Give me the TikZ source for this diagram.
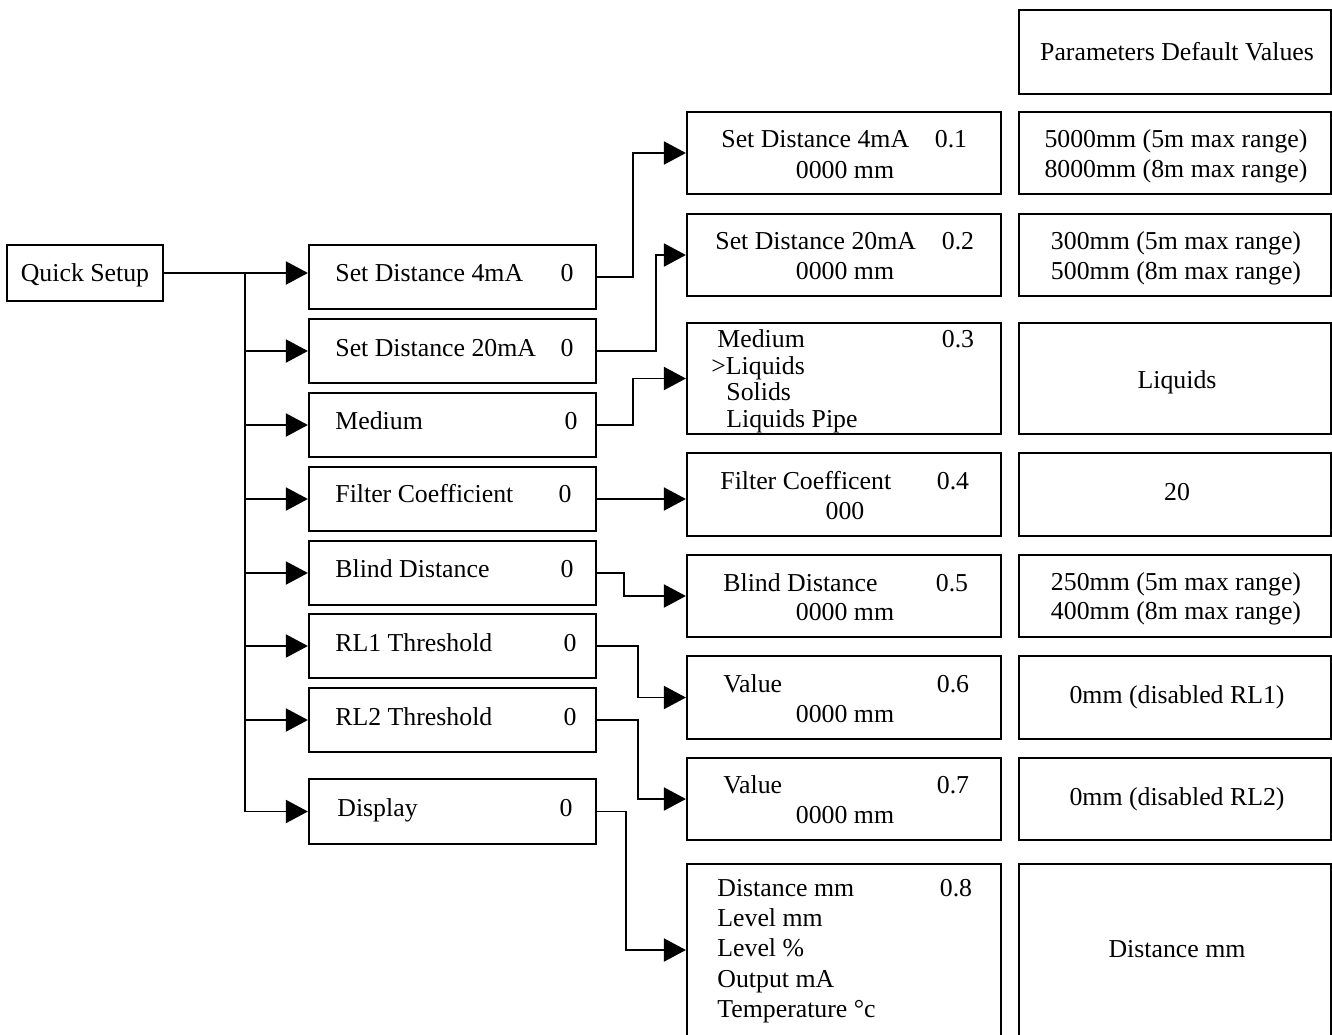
\documentclass[tikz,border=0pt]{standalone}
\usepackage{fontspec}
\setmainfont{Liberation Serif}
\usetikzlibrary{arrows.meta}
\begin{document}
\begin{tikzpicture}[x=0.5pt,y=-0.5pt,
  font=\fontsize{12.9}{15}\selectfont,
  box/.style 2 args={draw, line width=1.1pt, inner sep=0pt,
    minimum width=#1*0.5pt, minimum height=#2*0.5pt},
  txt/.style={inner sep=0pt, text height=0.84em, text depth=0pt, anchor=west},
  num/.style={inner sep=0pt, text height=0.84em, text depth=0pt, anchor=center},
  conn/.style={line width=0.95pt, -{Triangle[length=11pt,width=11.5pt]}},
  plain/.style={line width=0.95pt}]
\clip (0,0) rectangle (1332,1034);
\fill[white] (0,0) rectangle (1332,1034);

% Quick setup
\node[box={156}{56}] (qs) at (85,273) {};
\node[num] (qst) at (85,273) {Quick Setup};

% middle column
\node[box={287}{64}] (m1) at (452.5,277) {};
\node[box={287}{64}] (m2) at (452.5,351) {};
\node[box={287}{64}] (m3) at (452.5,425) {};
\node[box={287}{64}] (m4) at (452.5,499) {};
\node[box={287}{64}] (m5) at (452.5,573) {};
\node[box={287}{64}] (m6) at (452.5,646) {};
\node[box={287}{64}] (m7) at (452.5,720) {};
\node[box={287}{65}] (m8) at (452.5,811.5) {};

\node[txt] (m1t) at (335,273) {Set Distance 4mA};
\node[num] (m1n) at (567,273) {0};
\node[txt] (m2t) at (335,348) {Set Distance 20mA};
\node[num] (m2n) at (567,348) {0};
\node[txt] (m3t) at (335,421) {Medium};
\node[num] (m3n) at (571,421) {0};
\node[txt] (m4t) at (335,494) {Filter Coefficient};
\node[num] (m4n) at (565,494) {0};
\node[txt] (m5t) at (335,569) {Blind Distance};
\node[num] (m5n) at (567,569) {0};
\node[txt] (m6t) at (335,643) {RL1 Threshold};
\node[num] (m6n) at (570,643) {0};
\node[txt] (m7t) at (335,717) {RL2 Threshold};
\node[num] (m7n) at (570,717) {0};
\node[txt] (m8t) at (337,808) {Display};
\node[num] (m8n) at (566,808) {0};

% right column
\node[box={314}{82}] (r1) at (844,153) {};
\node[box={314}{82}] (r2) at (844,255) {};
\node[box={314}{111}] (r3) at (844,378.5) {};
\node[box={314}{83}] (r4) at (844,494.5) {};
\node[box={314}{82}] (r5) at (844,596) {};
\node[box={314}{83}] (r6) at (844,697.5) {};
\node[box={314}{82}] (r7) at (844,799) {};
\node[box={314}{172}] (r8) at (844,950) {};

\node[txt] (r1a) at (721,139) {Set Distance 4mA};
\node[num] (r1n) at (951,139) {0.1};
\node[num] (r1b) at (845,170) {0000 mm};
\node[txt] (r2a) at (715,241) {Set Distance 20mA};
\node[num] (r2n) at (958,241) {0.2};
\node[num] (r2b) at (845,271) {0000 mm};
\node[txt] (r3a) at (717,339) {Medium};
\node[num] (r3n) at (958,339) {0.3};
\node[txt] (r3b) at (711,366) {\textgreater Liquids};
\node[txt] (r3c) at (726,392) {Solids};
\node[txt] (r3d) at (726,419) {Liquids Pipe};
\node[txt] (r4a) at (720,481) {Filter Coefficent};
\node[num] (r4n) at (953,481) {0.4};
\node[num] (r4b) at (845,511) {000};
\node[txt] (r5a) at (723,583) {Blind Distance};
\node[num] (r5n) at (952,583) {0.5};
\node[num] (r5b) at (845,612) {0000 mm};
\node[txt] (r6a) at (723,684) {Value};
\node[num] (r6n) at (953,684) {0.6};
\node[num] (r6b) at (845,714) {0000 mm};
\node[txt] (r7a) at (723,785) {Value};
\node[num] (r7n) at (953,785) {0.7};
\node[num] (r7b) at (845,815) {0000 mm};
\node[txt] (r8a) at (717,888) {Distance mm};
\node[num] (r8n) at (956,888) {0.8};
\node[txt] (r8b) at (717,918) {Level mm};
\node[txt] (r8c) at (717,948) {Level \%};
\node[txt] (r8d) at (717,979) {Output mA};
\node[txt] (r8e) at (717,1009) {Temperature °c};

% default values column
\node[box={312}{84}] (d0) at (1175,52) {};
\node[box={312}{82}] (d1) at (1175,153) {};
\node[box={312}{82}] (d2) at (1175,255) {};
\node[box={312}{111}] (d3) at (1175,378.5) {};
\node[box={312}{83}] (d4) at (1175,494.5) {};
\node[box={312}{82}] (d5) at (1175,596) {};
\node[box={312}{83}] (d6) at (1175,697.5) {};
\node[box={312}{82}] (d7) at (1175,799) {};
\node[box={312}{172}] (d8) at (1175,950) {};

\node[num] (d0t) at (1177,52) {Parameters Default Values};
\node[num] (d1a) at (1176,139) {5000mm (5m max range)};
\node[num] (d1b) at (1176,169) {8000mm (8m max range)};
\node[num] (d2a) at (1176,241) {300mm (5m max range)};
\node[num] (d2b) at (1176,271) {500mm (8m max range)};
\node[num] (d3t) at (1177,380) {Liquids};
\node[num] (d4t) at (1177,492) {20};
\node[num] (d5a) at (1176,582) {250mm (5m max range)};
\node[num] (d5b) at (1176,611) {400mm (8m max range)};
\node[num] (d6t) at (1177,695) {0mm (disabled RL1)};
\node[num] (d7t) at (1177,797) {0mm (disabled RL2)};
\node[num] (d8t) at (1177,949) {Distance mm};

% trunk connectors
\coordinate (tr) at (245,273);
\draw[conn] (qs.east) -- (qs.east -| m1.west);
\draw[plain] (tr) -- (tr |- m8.west);
\draw[conn] (tr |- m2.west) -- (m2.west);
\draw[conn] (tr |- m3.west) -- (m3.west);
\draw[conn] (tr |- m4.west) -- (m4.west);
\draw[conn] (tr |- m5.west) -- (m5.west);
\draw[conn] (tr |- m6.west) -- (m6.west);
\draw[conn] (tr |- m7.west) -- (m7.west);
\draw[conn] (tr |- m8.west) -- (m8.west);

% middle to right connectors
\draw[conn] (m1.east) -- ++(36,0) |- (r1.west);
\draw[conn] (m2.east) -- ++(59,0) |- (r2.west);
\draw[conn] (m3.east) -- ++(36,0) |- (r3.west);
\draw[conn] (m4.east) -- (m4.east -| r4.west);
\draw[conn] (m5.east) -- ++(27,0) |- (r5.west);
\draw[conn] (m6.east) -- ++(41,0) |- (r6.west);
\draw[conn] (m7.east) -- ++(41,0) |- (r7.west);
\draw[conn] (m8.east) -- ++(29,0) |- (r8.west);
\end{tikzpicture}
\end{document}
